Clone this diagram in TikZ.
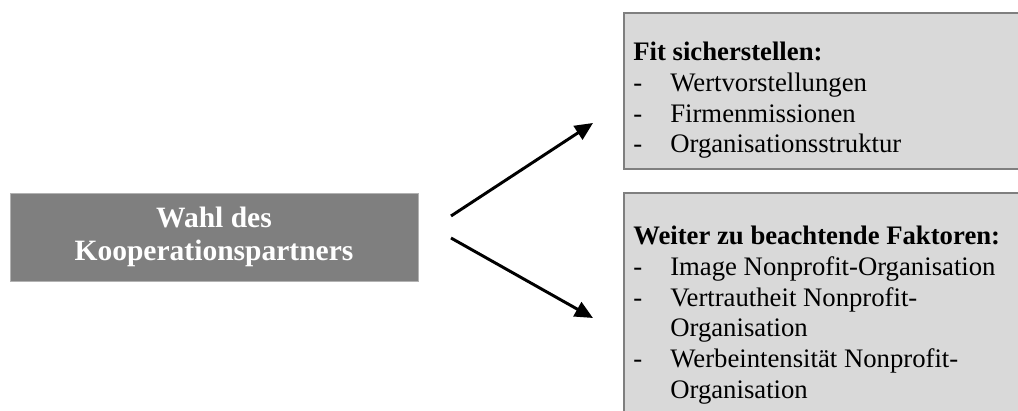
\documentclass[tikz,border=0pt]{standalone}
\usepackage{fontspec}
\setmainfont{Liberation Serif}
\usetikzlibrary{arrows.meta,positioning}
\definecolor{boxdark}{HTML}{7F7F7F}
\definecolor{boxlight}{HTML}{D9D9D9}
\tikzset{
  mainbox/.style={fill=boxdark, draw=boxdark!60!white, line width=0.6pt,
    minimum width=10.2cm, minimum height=2.2cm, inner sep=0pt,
    text=white, align=center, font=\bfseries\fontsize{21}{23.5}\selectfont},
  infobox/.style={fill=boxlight, draw=boxdark, line width=1.3pt,
    anchor=north west, inner sep=0pt, minimum width=9.9cm},
  infotext/.style={anchor=north west, inner sep=0pt, align=left,
    font=\fontsize{19}{21.8}\selectfont},
  pfeil/.style={-{Triangle[length=0.45cm,width=0.4cm]}, line width=2.1pt},
}
\newcommand{\strich}[1]{\makebox[0.925cm][l]{-}#1}
\begin{document}
\begin{tikzpicture}[x=0.025cm,y=-0.025cm]
	\clip (0,0) rectangle (1018,411);
	\fill[white] (0,0) rectangle (1018,411);
	% linke Seite
	\node[mainbox] (wahl) at (214,237) {Wahl des\\Kooperationspartners};
	% rechte Seite
	\node[infobox, minimum height=3.9cm] (fit) at (623,12) {};
	\node[infotext] (fittext) at (633,42) {\textbf{Fit sicherstellen:}\\
		\strich{Wertvorstellungen}\\
		\strich{Firmenmissionen}\\
		\strich{Organisationsstruktur}};
	\node[infobox, minimum height=6cm] (weiter) at (623,192) {};
	\node[infotext] (weitertext) at (633,226) {\textbf{Weiter zu beachtende Faktoren:}\\
		\strich{Image Nonprofit-Organisation}\\
		\strich{Vertrautheit Nonprofit-}\\
		\hspace*{0.925cm}Organisation\\
		\strich{Werbeintensität Nonprofit-}\\
		\hspace*{0.925cm}Organisation};
	% Pfeile
	\coordinate (oben1) at (451,216);
	\coordinate (oben2) at (593,123);
	\coordinate (unten1) at (451,238);
	\coordinate (unten2) at (593,318);
	\draw[pfeil] (oben1)--(oben2);
	\draw[pfeil] (unten1)--(unten2);
\end{tikzpicture}
\end{document}
